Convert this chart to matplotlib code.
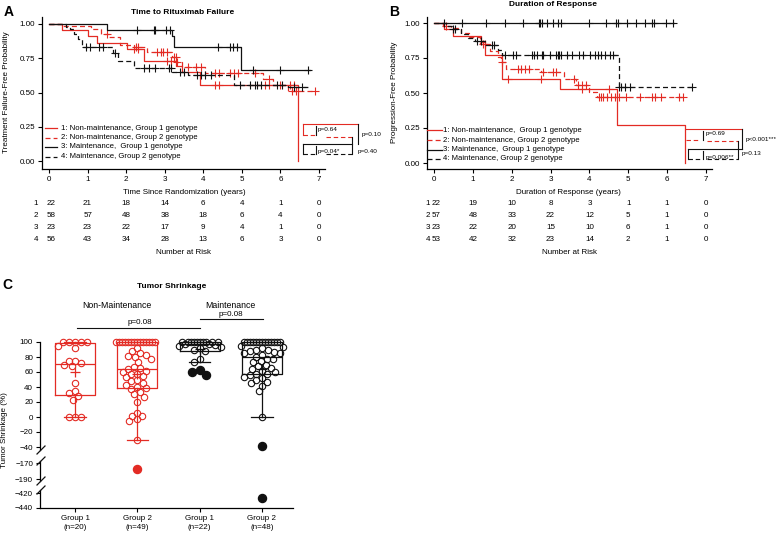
import numpy as np
import matplotlib
matplotlib.use("Agg")
import matplotlib.pyplot as plt
from matplotlib.lines import Line2D
from matplotlib import transforms

plt.rcParams['font.family'] = ['Liberation Sans', 'DejaVu Sans']

W, H = 778, 535
RED = '#E32B24'
BLK = '#111111'
FS = 5.8

# ---------------- DATA ----------------
# Panel A: Time to Rituximab Failure (event times, survival after event, censor times, end)
a1_t = [0.33, 1.02, 1.24, 2.01, 2.45, 3.28, 3.45, 3.91, 6.45]
a1_s = [0.955, 0.91, 0.864, 0.818, 0.73, 0.69, 0.65, 0.555, 0.0]
a1_c = [2.2, 2.3, 3.05, 3.15, 4.3, 4.4, 5.6, 5.7, 6.25, 6.35]
a1_end = 6.45

a2_t = [0.33, 1.1, 1.35, 1.55, 1.85, 2.2, 2.55, 3.2, 3.3, 3.45, 4.05, 5.55, 5.8, 6.2]
a2_s = [0.983, 0.966, 0.93, 0.905, 0.85, 0.835, 0.795, 0.76, 0.72, 0.685, 0.645, 0.60, 0.555, 0.51]
a2_c = [1.5, 2.25, 2.3, 2.8, 2.9, 2.95, 3.05, 3.25, 3.28, 3.32, 3.6, 3.8, 3.95,
        4.3, 4.4, 4.7, 4.8, 4.9, 5.35, 5.7, 6.0, 6.3, 6.4, 6.9]
a2_end = 6.9

a3_t = [1.51, 3.18, 3.24, 4.97]
a3_s = [0.955, 0.91, 0.835, 0.665]
a3_c = [2.27, 2.72, 2.75, 3.03, 3.14, 4.39, 4.69, 4.78, 4.87, 5.3, 5.99, 6.72]
a3_end = 6.77

a4_t = [0.45, 0.55, 0.65, 0.75, 0.85, 1.65, 1.8, 2.2, 3.2, 3.6, 4.8, 6.2]
a4_s = [0.98, 0.96, 0.93, 0.89, 0.83, 0.79, 0.73, 0.68, 0.65, 0.625, 0.555, 0.54]
a4_c = [0.95, 1.05, 1.3, 1.4, 1.7, 2.45, 2.6, 2.75, 3.1, 3.15, 3.4, 3.5, 3.85, 3.95,
        4.05, 4.2, 4.95, 5.2, 5.35, 5.4, 5.5, 5.9, 6.05, 6.35, 6.55]
a4_end = 6.75

# Panel B: Duration of Response
b1_t = [0.25, 0.5, 1.2, 1.3, 1.75, 3.25, 4.7, 6.45]
b1_s = [0.955, 0.91, 0.864, 0.77, 0.6, 0.527, 0.273, 0.0]
b1_c = [1.9, 2.75, 3.8, 4.5]
b1_end = 6.45

b2_t = [0.23, 0.45, 0.7, 0.9, 1.18, 1.45, 1.65, 1.72, 1.85, 2.75, 3.35, 3.65, 4.0, 4.2]
b2_s = [0.98, 0.965, 0.93, 0.90, 0.85, 0.80, 0.76, 0.72, 0.67, 0.65, 0.60, 0.555, 0.51, 0.475]
b2_c = [0.3, 1.25, 1.3, 1.75, 2.15, 2.25, 2.35, 2.45, 2.8, 3.05, 3.15, 3.6, 3.7, 3.8, 3.9,
        4.25, 4.3, 4.35, 4.45, 4.55, 4.65, 4.75, 4.95, 5.3, 5.6, 5.7, 5.85, 6.3, 6.4]
b2_end = 6.4

b3_t = []
b3_s = []
b3_c = [0.26, 0.73, 1.35, 1.82, 2.3, 2.7, 2.74, 2.79, 2.91, 3.07, 3.2, 3.26, 4.0, 4.43,
        4.69, 4.73, 4.96, 5.2, 5.43, 5.61, 5.67, 5.97, 6.14]
b3_end = 6.17

b4_t = [0.32, 0.49, 0.7, 0.88, 1.05, 1.3, 1.65, 1.74, 4.75]
b4_s = [0.98, 0.96, 0.92, 0.89, 0.87, 0.845, 0.81, 0.772, 0.545]
b4_c = [0.5, 0.55, 1.1, 1.2, 1.48, 1.55, 1.82, 2.03, 2.12, 2.51, 2.57, 2.64, 2.77, 2.81,
        2.98, 3.15, 3.18, 3.22, 3.28, 3.41, 3.54, 3.73, 3.84, 4.02, 4.14, 4.23, 4.31,
        4.4, 4.53, 4.61, 4.75, 4.8, 4.92, 5.05, 6.64]
b4_end = 6.64

legend_labels_A = ["1: Non-maintenance, Group 1 genotype",
                   "2: Non-maintenance, Group 2 genotype",
                   "3: Maintenance,  Group 1 genotype",
                   "4: Maintenance, Group 2 genotype"]
legend_labels_B = ["1: Non-maintenance,  Group 1 genotype",
                   "2: Non-maintenance, Group 2 genotype",
                   "3: Maintenance,  Group 1 genotype",
                   "4: Maintenance, Group 2 genotype"]

risk_times = [0, 1, 2, 3, 4, 5, 6, 7]
risk_A = [[22, 21, 18, 14, 6, 4, 1, 0],
          [58, 57, 48, 38, 18, 6, 4, 0],
          [23, 23, 22, 17, 9, 4, 1, 0],
          [56, 43, 34, 28, 13, 6, 3, 0]]
risk_B = [[22, 19, 10, 8, 3, 1, 1, 0],
          [57, 48, 33, 22, 12, 5, 1, 0],
          [23, 22, 20, 15, 10, 6, 1, 0],
          [53, 42, 32, 23, 14, 2, 1, 0]]

# Panel C: Tumor shrinkage (%); inliers (open circles) and outliers (filled)
c_groups = ["Group 1\n(n=20)", "Group 2\n(n=49)", "Group 1\n(n=22)", "Group 2\n(n=48)"]
c_nonmaint_g1 = [100, 100, 100, 100, 100, 95, 92, 75, 75, 72, 70, 68, 46, 35, 32, 28, 23, 0, 0, 0]
c_nonmaint_g1_out = []
c_nonmaint_g2 = [100] * 14 + [92, 88, 85, 83, 82, 80, 78, 73, 67, 65, 64, 62, 60, 58, 57, 55,
                              53, 50, 48, 46, 43, 40, 39, 38, 33, 31, 27, 20, 6, 2, 1, -3, -5,
                              -30]
c_nonmaint_g2_out = [-178]
c_maint_g1 = [100] * 10 + [98, 97, 96, 95, 93, 92, 90, 88, 77, 74]
c_maint_g1_out = [63, 56, 60]
c_maint_g2 = [100] * 13 + [95, 93, 92, 90, 89, 88, 87, 86, 85, 83, 80, 78, 77, 75, 73, 70, 68,
                           66, 64, 62, 60, 58, 57, 56, 54, 52, 50, 47, 45, 42, 35, 0]
c_maint_g2_out = [-39, -427]

# ---------------- FIGURE ----------------
fig = plt.figure(figsize=(W / 100, H / 100), dpi=100)


def fx(x):
    return x / W


def fy(y):
    return 1 - y / H


def ax_px(l, t, r, b):
    return fig.add_axes([fx(l), fy(b), (r - l) / W, (b - t) / H])


def ftext(x, y, s, **kw):
    kw.setdefault('ha', 'center')
    kw.setdefault('va', 'center')
    kw.setdefault('fontsize', FS)
    fig.text(fx(x), fy(y), s, **kw)


def fline(xs, ys, **kw):
    kw.setdefault('lw', 0.8)
    kw.setdefault('color', BLK)
    fig.add_artist(Line2D([fx(v) for v in xs], [fy(v) for v in ys], **kw))


DASH = (0, (4, 2.5))


def km(ax, t, s, c, end, color, ls):
    T = [0.0] + list(t)
    S = [1.0] + list(s)
    xs = T + [end]
    ys = S + [S[-1]]
    ax.step(xs, ys, where='post', color=color, ls=ls, lw=0.9, clip_on=False)
    cs = [S[np.searchsorted(T, ci, side='right') - 1] for ci in c]
    ax.plot(c, cs, ls='none', marker='+', ms=5.5, mew=0.8, color=color, clip_on=False)


def style_km(ax, xlim, ylim):
    ax.set_xlim(*xlim)
    ax.set_ylim(*ylim)
    for sp in ['top', 'right']:
        ax.spines[sp].set_visible(False)
    for sp in ['left', 'bottom']:
        ax.spines[sp].set_linewidth(0.9)
    ax.set_xticks(risk_times)
    ax.set_yticks([0, 0.25, 0.5, 0.75, 1.0])
    ax.set_yticklabels(['0.00', '0.25', '0.50', '0.75', '1.00'])
    ax.tick_params(length=3, width=0.8, labelsize=FS, pad=2)
    ax.patch.set_alpha(0)


styles = [(RED, '-'), (RED, DASH), (BLK, '-'), (BLK, DASH)]

# ---- Panel A ----
axA = ax_px(42, 17, 325, 169)
style_km(axA, (-7 / 38.57, 7 + 6 / 38.57), (-8 / 137, 1 + 7 / 137))
for (t, s, c, e), (col, ls) in zip([(a1_t, a1_s, a1_c, a1_end), (a2_t, a2_s, a2_c, a2_end),
                                    (a3_t, a3_s, a3_c, a3_end), (a4_t, a4_s, a4_c, a4_end)], styles):
    km(axA, t, s, c, e, col, ls)

# ---- Panel B ----
axB = ax_px(427, 17, 712, 169)
style_km(axB, (-7 / 38.86, 7 + 6 / 38.86), (-6 / 140, 1 + 6 / 140))
for (t, s, c, e), (col, ls) in zip([(b1_t, b1_s, b1_c, b1_end), (b2_t, b2_s, b2_c, b2_end),
                                    (b3_t, b3_s, b3_c, b3_end), (b4_t, b4_s, b4_c, b4_end)], styles):
    km(axB, t, s, c, e, col, ls)


def legend(x0, x1, xt, ys, labels):
    for (col, ls), y, lab in zip(styles, ys, labels):
        fline([x0, x1], [y, y], color=col, ls=ls, lw=0.9)
        ftext(xt, y, lab, ha='left', fontsize=5.6)


legend(45, 57, 61, [128, 137.5, 147, 156.5], legend_labels_A)
legend(427, 442, 442.5, [130, 140, 149.5, 159], legend_labels_B)

# titles, labels
ftext(8.5, 12, 'A', fontsize=10, fontweight='bold')
ftext(394, 12, 'B', fontsize=10, fontweight='bold')
ftext(7, 285, 'C', fontsize=10, fontweight='bold')
ftext(183, 12, 'Time to Rituximab Failure', fontsize=6, fontweight='bold')
ftext(553, 4, 'Duration of Response', fontsize=6, fontweight='bold')
ftext(172, 287, 'Tumor Shrinkage', fontsize=6, fontweight='bold')
ftext(6.5, 92, 'Treatment Failure-Free Probability', rotation=90)
ftext(394, 92, 'Progression-Free Probability', rotation=90)
ftext(184, 193, 'Time Since Randomization (years)')
ftext(568, 193, 'Duration of Response (years)')
ftext(184, 253, 'Number at Risk')
ftext(569, 253, 'Number at Risk')

# numbers at risk
row_y = [203.5, 215.3, 227.3, 239.3]
for ax, risk, labx in [(axA, risk_A, 36), (axB, risk_B, 428)]:
    tr = transforms.blended_transform_factory(ax.transData, fig.transFigure)
    for i, (row, y) in enumerate(zip(risk, row_y)):
        ftext(labx, y, str(i + 1))
        for tt, n in zip(risk_times, row):
            fig.text(tt + (0.05 if tt == 0 else 0), fy(y), str(n), transform=tr,
                     ha='center', va='center', fontsize=FS)

# p-value brackets A
PS = 4.6
fline([303, 358], [124, 124], color=RED)
fline([303, 303], [124, 135], color=RED)
fline([303, 316], [135, 135], color=RED, ls=DASH)
fline([326, 352], [137, 137], color=RED, ls=DASH)
fline([316, 316], [126, 135])
ftext(318, 130, 'p=0.64', ha='left', fontsize=PS)
fline([358, 358], [124, 144])
ftext(362, 135, 'p=0.10', ha='left', fontsize=PS)
fline([303, 352], [144, 144])
fline([303, 303], [144, 154])
fline([303, 316], [154, 154], ls=DASH)
fline([326, 352], [154, 154], ls=DASH)
fline([316, 316], [146, 154])
ftext(318, 151.5, 'p=0.04*', ha='left', fontsize=PS)
fline([352, 352], [137, 154])
ftext(358, 151, 'p=0.40', ha='left', fontsize=PS)

# p-value brackets B
fline([686, 742], [129, 129], color=RED)
fline([686, 700], [140, 140], color=RED, ls=DASH)
fline([707, 738], [141, 141], color=RED, ls=DASH)
fline([703, 703], [131, 140])
ftext(706, 134, 'p=0.69', ha='left', fontsize=PS)
fline([742, 742], [129, 149])
ftext(746, 139, 'p<0.001***', ha='left', fontsize=PS)
fline([688, 742], [149, 149])
fline([688, 688], [149, 159])
fline([688, 700], [159, 159], ls=DASH)
fline([707, 738], [159, 159], ls=DASH)
fline([703, 703], [151, 159])
ftext(706, 157, 'p=0.006**', ha='left', fontsize=PS)
fline([738, 738], [141, 159])
ftext(742, 154, 'p=0.13', ha='left', fontsize=PS)

# ---- Panel C ----
xl = (-35 / 62.33, 3 + 31 / 62.33)
ax1 = ax_px(40, 342, 293, 450)
ax2 = ax_px(40, 461, 293, 481)
ax3 = ax_px(40, 490, 293, 508)
seg_lims = [(-44, 100), (-192.5, -167.5), (-440, -416)]
for ax, lim in zip((ax1, ax2, ax3), seg_lims):
    ax.set_ylim(*lim)
    ax.set_xlim(*xl)
    ax.patch.set_alpha(0)
    for sp in ['top', 'right', 'bottom']:
        ax.spines[sp].set_visible(False)
    ax.spines['left'].set_linewidth(0.9)
    ax.tick_params(length=3, width=0.8, labelsize=FS, pad=2)
    ax.set_xticks([])
ax3.spines['bottom'].set_visible(True)
ax3.spines['bottom'].set_linewidth(0.9)
ax3.set_xticks(range(4))
ax3.set_xticklabels(c_groups, fontsize=FS, linespacing=1.4)
ax1.set_yticks([100, 80, 60, 40, 20, 0, -20, -40])
ax2.set_yticks([-170, -190])
ax3.set_yticks([-420, -440])

for y in [450, 461, 481, 490]:
    fline([37, 45], [y + 4, y - 4], lw=0.9)

group_in = [c_nonmaint_g1, c_nonmaint_g2, c_maint_g1, c_maint_g2]
group_out = [c_nonmaint_g1_out, c_nonmaint_g2_out, c_maint_g1_out, c_maint_g2_out]
group_cols = [RED, RED, BLK, BLK]


def swarm_x(ax, x0, vals, d=6.0, half=21.0):
    vals = np.asarray(vals, dtype=float)
    tr = ax.transData
    pts = tr.transform(np.column_stack([np.full(len(vals), float(x0)), vals]))
    ys = pts[:, 1]
    xc = pts[0, 0]
    cand = np.arange(-half, half + 0.01, 0.5)
    cand = cand[np.argsort(np.abs(cand), kind='stable')]
    placed = []
    offs = np.zeros(len(vals))
    for i in np.argsort(-ys, kind='stable'):
        best = None
        bestd = -1.0
        bestoff = 0.0
        for off in cand:
            if placed:
                P = np.array(placed)
                md = float(np.min(np.hypot(P[:, 0] - off, P[:, 1] - ys[i])))
            else:
                md = 1e9
            if md >= d:
                best = off
                break
            if md > bestd + 1e-9:
                bestd = md
                bestoff = off
        if best is None:
            best = bestoff
        placed.append((best, ys[i]))
        offs[i] = best
    return tr.inverted().transform(np.column_stack([xc + offs, ys]))[:, 0]


fig.canvas.draw()
for i, (vin, vout, col) in enumerate(zip(group_in, group_out, group_cols)):
    vi = np.array(vin, dtype=float)
    allv = np.array(vin + vout, dtype=float)
    q1, med, q3 = np.percentile(allv, [25, 50, 75], method='weibull')
    stats = [dict(med=med, q1=q1, q3=q3, whislo=vi.min(), whishi=vi.max(),
                  mean=allv.mean(), fliers=[])]
    lp = dict(color=col, lw=0.9)
    arts = ax1.bxp(stats, positions=[i], widths=0.64, capwidths=0.34, showmeans=True,
                   boxprops=lp, whiskerprops=lp, capprops=lp, medianprops=lp,
                   meanprops=dict(marker='+', markeredgecolor=col, ms=7, mew=0.9),
                   manage_ticks=False)
    for lst in arts.values():
        for a in lst:
            a.set_clip_on(False)
    xs = swarm_x(ax1, i, vi)
    ax1.plot(xs, vi, ls='none', marker='o', ms=4.6, mfc='none', mec=col, mew=0.8,
             clip_on=False, zorder=3)
    # filled outliers, on the axis segment that holds each value
    for ax, (lo, hi) in zip((ax1, ax2, ax3), seg_lims):
        sel = [o for o in vout if lo <= o <= hi]
        if sel:
            ox = swarm_x(ax, i, sel, d=8.0)
            ax.plot(ox, sel, ls='none', marker='o', ms=5.8, color=col, mec=col,
                    clip_on=False, zorder=3)

ftext(117, 305, 'Non-Maintenance', fontsize=6.3)
ftext(230, 305, 'Maintenance', fontsize=6.3)
fline([77, 200], [328, 328])
ftext(140, 323, 'p=0.08')
fline([200, 263], [319, 319])
ftext(231, 314.5, 'p=0.08')
ftext(5, 430, 'Tumor Shrinkage (%)', rotation=90)

fig.savefig('out.png', dpi=100)
